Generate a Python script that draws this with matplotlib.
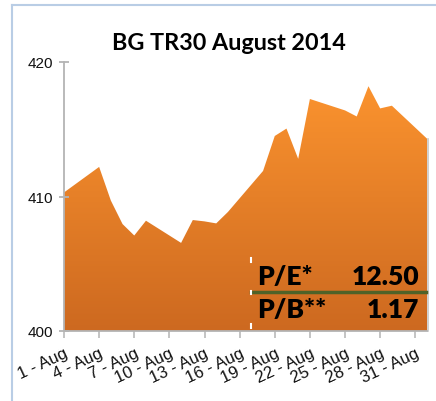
import numpy as np
import pandas as pd
import matplotlib
matplotlib.use("Agg")
import matplotlib.pyplot as plt
import matplotlib.dates as mdates
import matplotlib.ticker as mticker
from matplotlib.lines import Line2D
from matplotlib.colors import LinearSegmentedColormap

dates = ['2014-08-01', '2014-08-04', '2014-08-05', '2014-08-06', '2014-08-07',
         '2014-08-08', '2014-08-11', '2014-08-12', '2014-08-13', '2014-08-14',
         '2014-08-15', '2014-08-18', '2014-08-19', '2014-08-20', '2014-08-21',
         '2014-08-22', '2014-08-25', '2014-08-26', '2014-08-27', '2014-08-28',
         '2014-08-29', '2014-09-01']
values = [410.3, 412.2, 409.7, 407.95, 407.1, 408.2, 406.55, 408.25, 408.15, 408.0,
          408.85, 411.9, 414.5, 415.05, 412.8, 417.25, 416.4, 415.95, 418.2, 416.55,
          416.75, 414.3]
tick_dates = ['2014-08-01', '2014-08-04', '2014-08-07', '2014-08-10', '2014-08-13',
              '2014-08-16', '2014-08-19', '2014-08-22', '2014-08-25', '2014-08-28',
              '2014-08-31']
y_ticks = [400, 410, 420]
title = "BG TR30 August 2014"
stats_labels = ["P/E*", "P/B**"]
stats_values = ["12.50", "1.17"]

W, H = 436, 402
fig = plt.figure(figsize=(W / 100, H / 100), dpi=100)
fig.patch.set_facecolor("white")

def fx(px):
    return px / W

def fy(py):
    return 1 - py / H

ax = fig.add_axes([fx(64), fy(332), fx(427) - fx(64), fy(63) - fy(332)])
x = pd.to_datetime(dates)
xn = mdates.date2num(x)
x0 = mdates.date2num(pd.Timestamp('2014-08-01'))
x1 = mdates.date2num(pd.Timestamp('2014-09-01'))

ax.set_xlim(x0, x1)
ax.set_ylim(400, 420)

poly = ax.fill_between(xn, values, 400, facecolor='none', edgecolor='none')
cmap = LinearSegmentedColormap.from_list('g', [(205 / 255, 105 / 255, 32 / 255),
                                               (255 / 255, 151 / 255, 48 / 255)])
grad = np.linspace(0, 1, 256).reshape(-1, 1)
im = ax.imshow(grad, extent=[x0, x1, 400, 420], origin='lower', aspect='auto',
               cmap=cmap, zorder=1)
im.set_clip_path(poly.get_paths()[0], transform=ax.transData)

# subtle right shadow
ax.plot([x1 + 0.05, x1 + 0.05], [400, values[-1]], color='#c8c8c8', lw=1.2,
        clip_on=False, zorder=0)

for s in ['top', 'right']:
    ax.spines[s].set_visible(False)
for s in ['left', 'bottom']:
    ax.spines[s].set_color('#b4b4b4')
    ax.spines[s].set_linewidth(1.3)
ax.spines['bottom'].set_zorder(3)

ax.set_yticks(y_ticks)
ax.yaxis.set_tick_params(direction='inout', length=7, width=1.3, color='#b4b4b4',
                         labelsize=11, pad=4, labelcolor='#111111')
ax.xaxis.set_major_locator(mticker.FixedLocator(mdates.date2num(pd.to_datetime(tick_dates))))
ax.xaxis.set_major_formatter(mdates.DateFormatter('%-d - %b'))
ax.xaxis.set_tick_params(direction='out', length=5, width=1.1, color='#b4b4b4',
                         labelsize=12, pad=5, labelcolor='#111111')
for lab in ax.get_xticklabels() + ax.get_yticklabels():
    lab.set_fontfamily('Liberation Sans')
for lab in ax.get_xticklabels():
    lab.set_rotation(25)
    lab.set_ha('right')
    lab.set_rotation_mode('anchor')

# border
fig.add_artist(Line2D([fx(12), fx(12)], [fy(6), 0], color='#b9cde5', lw=1.5))
fig.add_artist(Line2D([fx(12), 1], [fy(6), fy(6)], color='#b9cde5', lw=1.5))

fig.text(fx(229), fy(44), title, ha='center', va='center', fontsize=16.8,
         fontweight='bold', fontfamily='Lato', color='black')

# stats box
kw = dict(fontsize=19, fontweight='heavy', fontfamily='Lato', color='black', va='baseline')
fig.text(fx(257), fy(285), stats_labels[0], ha='left', **kw)
fig.text(fx(419), fy(285), stats_values[0], ha='right', **kw)
fig.text(fx(257), fy(318), stats_labels[1], ha='left', **kw)
fig.text(fx(419), fy(318), stats_values[1], ha='right', **kw)
fig.add_artist(Line2D([fx(251), fx(426)], [fy(293), fy(293)], color='#4f6228', lw=2.5))
for yy in [(259, 263), (292, 295), (325, 329)]:
    fig.add_artist(Line2D([fx(251), fx(251)], [fy(yy[0]), fy(yy[1])], color='white', lw=1.5))

fig.savefig('out.png', dpi=100, facecolor='white')
